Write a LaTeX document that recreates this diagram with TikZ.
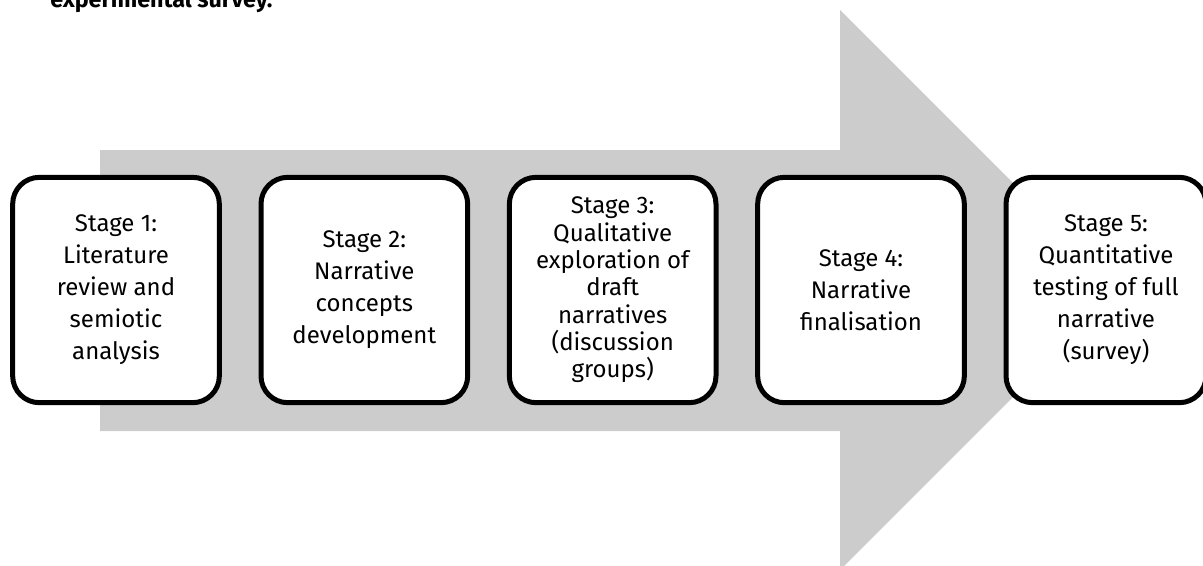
\documentclass[tikz,border=0pt]{standalone}
\usepackage{fontspec}
\setmainfont{Fira Sans}
\usetikzlibrary{positioning}
\begin{document}
\begin{tikzpicture}
			[x=0.75pt,y=-0.75pt,
			node distance=27.5pt,
			stagebox/.style={draw, line width=3.75pt, rounded corners=20pt,
				fill=white, align=center, minimum width=155pt,
				minimum height=169pt, inner sep=0pt,
				font=\fontsize{18}{24}\selectfont}]
			\useasboundingbox (0,0) rectangle (1203,565);
			\clip (0,0) rectangle (1203,565);
			% big arrow behind the stages
			\fill[black!20] (100,150) -- (840,150) -- (840,10) -- (1120,290)
				-- (840,570) -- (840,431) -- (100,431) -- cycle;
			\node[anchor=base west, inner sep=0pt,
				font=\fontsize{17.5}{20}\selectfont\bfseries]
				(survey) at (50,7) {experimental survey.};
			\node[stagebox] (s1) at (116,290)
				{Stage 1:\\ Literature\\ review and\\ semiotic\\ analysis};
			\node[stagebox, right=of s1] (s2)
				{Stage 2:\\ Narrative\\ concepts\\ development};
			\node[stagebox, right=of s2, font=\fontsize{18}{20.5}\selectfont] (s3)
				{Stage 3:\\ Qualitative\\ exploration of\\ draft\\ narratives\\ (discussion\\ groups)};
			\node[stagebox, right=of s3] (s4)
				{Stage 4:\\ Narrative\\ finalisation};
			\node[stagebox, right=of s4, minimum width=150pt] (s5)
				{Stage 5:\\ Quantitative\\ testing of full\\ narrative\\ (survey)};
		\end{tikzpicture}
\end{document}
